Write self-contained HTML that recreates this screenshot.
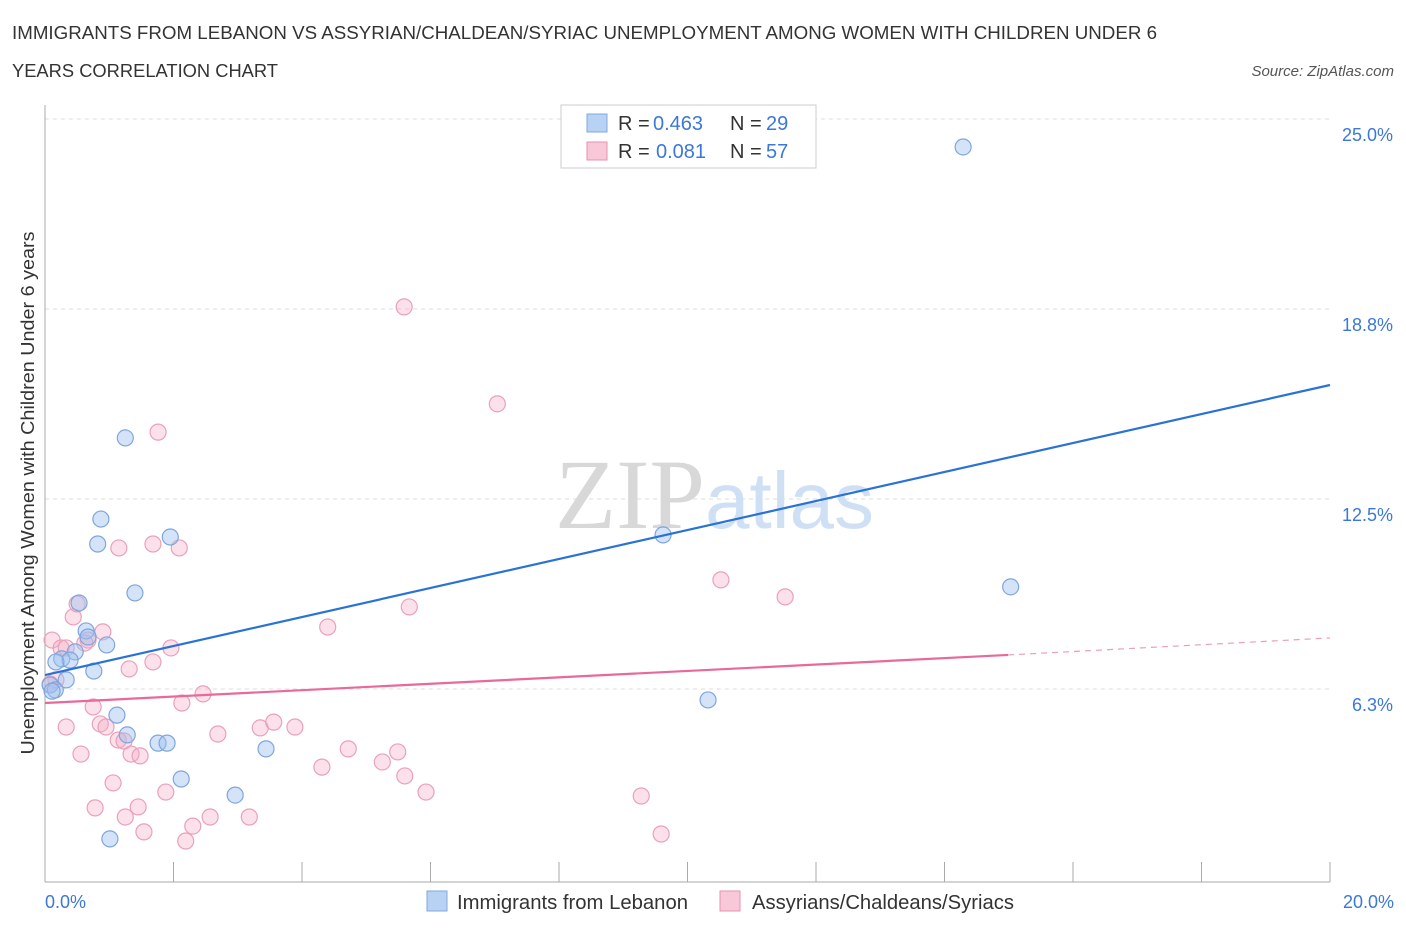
<!DOCTYPE html>
<html><head><meta charset="utf-8"><style>
body{margin:0;background:#fff;font-family:"Liberation Sans",sans-serif;}
svg text{font-family:"Liberation Sans",sans-serif;}
</style></head><body>
<svg width="1406" height="930" xmlns="http://www.w3.org/2000/svg">
<text x="12" y="39" font-size="18" fill="#333" textLength="1145" lengthAdjust="spacingAndGlyphs">IMMIGRANTS FROM LEBANON VS ASSYRIAN/CHALDEAN/SYRIAC UNEMPLOYMENT AMONG WOMEN WITH CHILDREN UNDER 6</text>
<text x="12" y="77" font-size="18" fill="#333" textLength="266" lengthAdjust="spacingAndGlyphs">YEARS CORRELATION CHART</text>
<text x="1394" y="76" font-size="15" fill="#555" font-style="italic" text-anchor="end">Source: ZipAtlas.com</text>
<g id="grid"></g>
<text x="555" y="528" font-size="100" fill="#ddd" font-family="Liberation Serif"><tspan fill="#d8d8d8" font-family="Liberation Serif">ZIP</tspan><tspan fill="#cfe0f5" font-size="80" font-family="Liberation Sans">atlas</tspan></text>
<g id="marks"></g>
<text x="34" y="493" font-size="18" fill="#333" text-anchor="middle" textLength="523" lengthAdjust="spacingAndGlyphs" transform="rotate(-90 34 493)">Unemployment Among Women with Children Under 6 years</text>
<text x="45" y="908" font-size="18" fill="#3b78d8">0.0%</text>
<text x="1394" y="908" font-size="18" fill="#3b78d8" text-anchor="end">20.0%</text>
<g>
<rect x="561" y="105" width="255" height="63" fill="#fff" stroke="#ccc"/>
<rect x="587" y="114" width="20" height="18" fill="#b8d2f4" stroke="#7fa8e0"/>
<text x="618" y="130" font-size="20" fill="#333">R =</text>
<text x="653" y="130" font-size="20" fill="#3b78d8">0.463</text>
<text x="730" y="130" font-size="20" fill="#333">N =</text>
<text x="766" y="130" font-size="20" fill="#3b78d8">29</text>
<rect x="587" y="142" width="20" height="18" fill="#f9c8d8" stroke="#e890b0"/>
<text x="618" y="158" font-size="20" fill="#333">R =</text>
<text x="656" y="158" font-size="20" fill="#3b78d8">0.081</text>
<text x="730" y="158" font-size="20" fill="#333">N =</text>
<text x="766" y="158" font-size="20" fill="#3b78d8">57</text>
</g>
<g>
<rect x="427" y="891" width="20" height="20" fill="#b8d2f4" stroke="#7fa8e0"/>
<text x="457" y="909" font-size="20" fill="#333" textLength="231" lengthAdjust="spacingAndGlyphs">Immigrants from Lebanon</text>
<rect x="720" y="891" width="20" height="20" fill="#f9c8d8" stroke="#e890b0"/>
<text x="752" y="909" font-size="20" fill="#333" textLength="262" lengthAdjust="spacingAndGlyphs">Assyrians/Chaldeans/Syriacs</text>
</g>
</svg>
<script>
const yTicks=[6.25,12.5,18.75,25];
const yTickLabels=["6.3%","12.5%","18.8%","25.0%"];
const blueX=[14.29,1.25,0.87,0.82,1.95,9.62,15.03,1.40,0.53,0.64,0.67,0.96,0.47,0.26,0.39,0.17,0.76,0.33,0.08,0.16,0.11,10.32,1.12,1.28,1.76,1.90,2.12,3.44,2.96,1.01];
const blueY=[24.08,14.51,11.84,11.02,11.25,11.32,9.61,9.41,9.08,8.16,7.96,7.70,7.47,7.24,7.20,7.14,6.84,6.55,6.38,6.22,6.18,5.89,5.39,4.74,4.47,4.47,3.29,4.28,2.76,1.32];
const pinkX=[5.59,7.04,1.76,1.68,2.09,1.15,10.52,11.52,5.67,4.40,0.44,0.50,0.11,0.90,0.67,0.62,0.25,0.33,1.96,1.68,1.31,0.17,0.08,2.46,2.13,0.75,0.33,0.86,0.95,3.35,3.56,3.89,2.69,1.14,1.23,1.34,1.48,0.56,4.72,5.49,5.25,4.31,5.60,1.06,1.88,5.93,9.28,0.78,1.45,1.25,2.57,3.18,2.30,1.54,2.19,9.59];
const pinkY=[18.82,15.63,14.70,11.02,10.89,10.89,9.84,9.28,8.95,8.29,8.62,9.05,7.86,8.13,7.86,7.76,7.60,7.60,7.60,7.14,6.91,6.55,6.41,6.09,5.79,5.66,5.00,5.10,5.00,4.97,5.16,5.00,4.77,4.57,4.54,4.11,4.05,4.11,4.28,4.18,3.85,3.68,3.39,3.16,2.86,2.86,2.73,2.34,2.37,2.04,2.04,2.04,1.74,1.55,1.25,1.48];
const blueTrend=[6.71,16.25];
const pinkTrend=[5.79,7.37,7.93];
const pinkSolidEnd=14.99;
const X0=45,X1=1330,Y0=879,PPY=30.4;
const sx=v=>X0+v/20*(X1-X0);
const sy=v=>Y0-v*PPY;
const NS="http://www.w3.org/2000/svg";
const grid=document.getElementById('grid'),marks=document.getElementById('marks');
function mk(tag,attrs,parent){const e=document.createElementNS(NS,tag);for(const k in attrs)e.setAttribute(k,attrs[k]);parent.appendChild(e);return e;}
yTicks.forEach((t,i)=>{
 const l=mk('line',{x1:X0,x2:X1,y1:sy(t),y2:sy(t),stroke:'#ddd','stroke-dasharray':'4 4'},grid);
 
 
 const tx=mk('text',{x:1393,y:sy(t)+22,'font-size':18,fill:'#3b78d8','text-anchor':'end'},grid);
 tx.textContent=yTickLabels[i];
 
 
});
const ax=mk('line',{x1:X0,x2:X0,y1:105,y2:882,stroke:'#aaa'},grid);


const bx=mk('line',{x1:X0,x2:X1,y1:882,y2:882,stroke:'#aaa'},grid);


for(let i=1;i<=10;i++){const t=mk('line',{x1:sx(i*2),x2:sx(i*2),y1:862,y2:882,stroke:'#aaa'},grid);
 
 }
pinkX.forEach((x,i)=>{const c=mk('circle',{cx:sx(x),cy:sy(pinkY[i]),r:8,fill:'rgba(245,170,196,0.35)',stroke:'#eaa0bb','stroke-width':1.2},marks);
 
 });
blueX.forEach((x,i)=>{const c=mk('circle',{cx:sx(x),cy:sy(blueY[i]),r:8,fill:'rgba(160,194,240,0.45)',stroke:'#7ea6de','stroke-width':1.2},marks);
 
 });
const bt=mk('line',{x1:sx(0),y1:sy(blueTrend[0]),x2:sx(20),y2:sy(blueTrend[1]),stroke:'#2a72d6','stroke-width':2.2},marks);


const pt=mk('line',{x1:sx(0),y1:sy(pinkTrend[0]),x2:sx(pinkSolidEnd),y2:sy(pinkTrend[1]),stroke:'#e8699a','stroke-width':2.2},marks);


const pd=mk('line',{x1:sx(pinkSolidEnd),y1:sy(pinkTrend[1]),x2:sx(20),y2:sy(pinkTrend[2]),stroke:'#e8a0ba','stroke-width':1.2,'stroke-dasharray':'6 5'},marks);


</script>
</body></html>
